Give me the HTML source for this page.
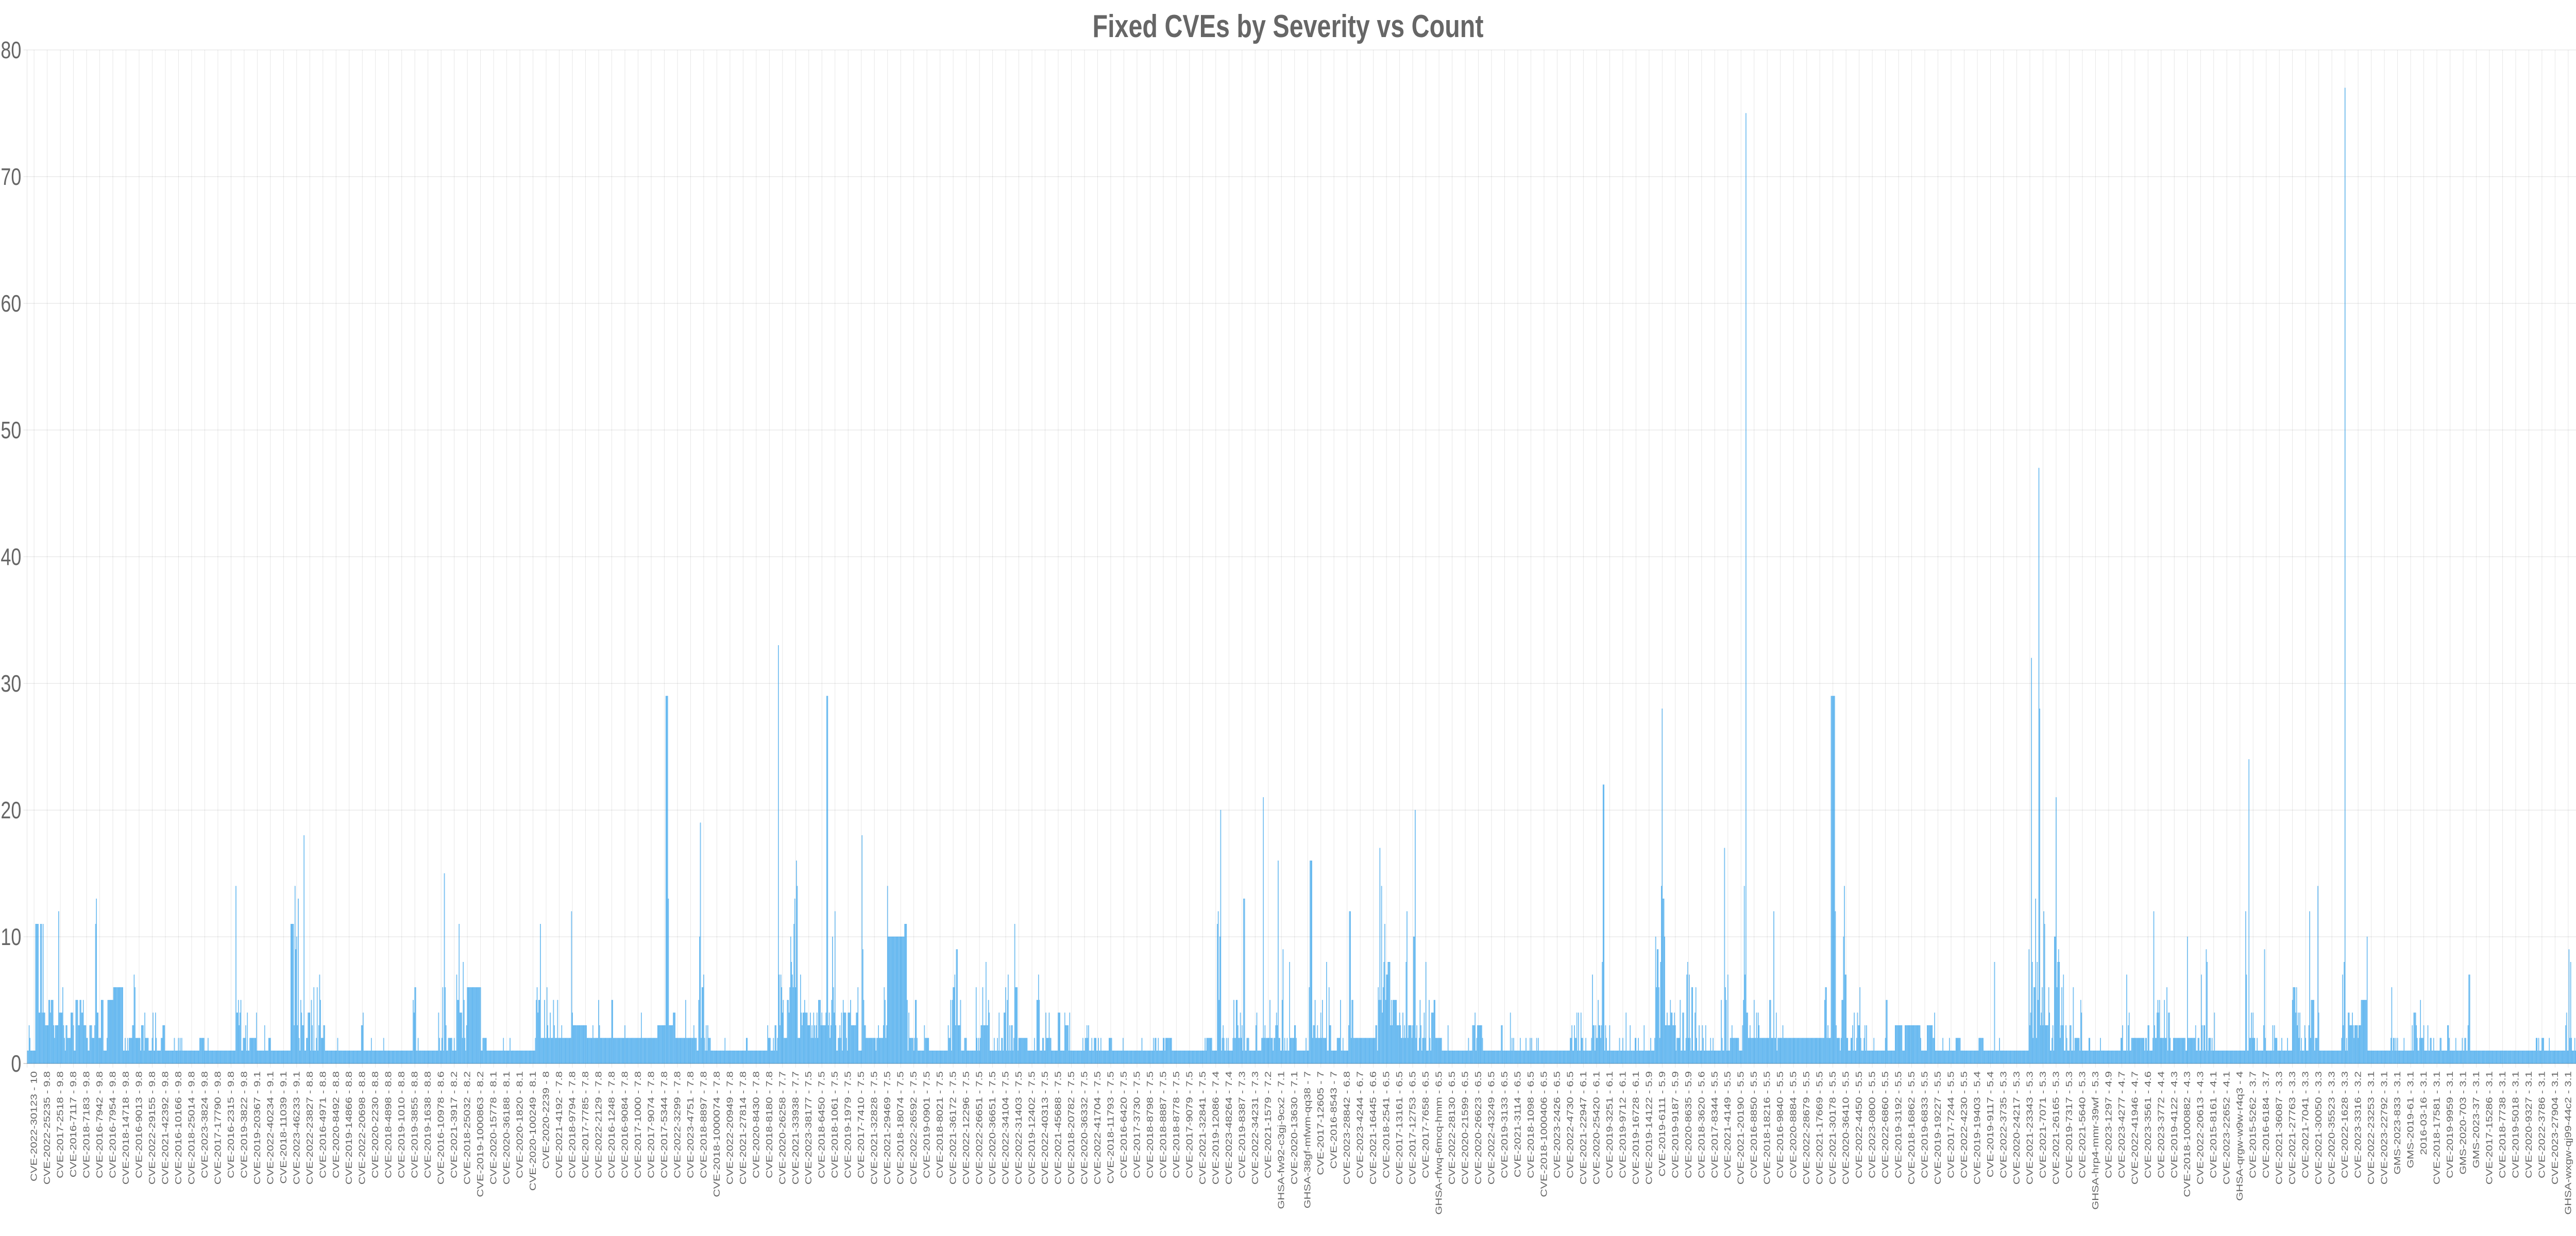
<!DOCTYPE html>
<html>
<head>
<meta charset="utf-8">
<meta name="viewport" content="width=6400, initial-scale=1">
<style>
html,body{margin:0;padding:0;background:#fff;width:100%;height:100%;overflow:hidden;}
svg{display:block;overflow:hidden;width:100vw;height:100vh;}
text{font-family:"Liberation Sans",Arial,sans-serif;fill:#666;}
</style>
</head>
<body>
<svg id="chart" viewBox="0 0 6400 2400" preserveAspectRatio="none" xmlns="http://www.w3.org/2000/svg">
  <rect x="0" y="0" width="6400" height="2400" fill="#fff"/>
  <text x="3200" y="72" text-anchor="middle" font-size="62" font-weight="bold">Fixed CVEs by Severity vs Count</text>
  <g id="grid"></g>
  <g id="bars"></g>
  <g id="yaxis"></g>
  <g id="xaxis"></g>
</svg>
<script>
// Run-length encoded bar values: [count value, number of consecutive bars]
const valueRuns = [
[1,2],[3,1],[2,1],[1,6],[11,4],[4,2],[11,2],[4,1],[11,1],[4,2],
[3,4],[5,2],[4,1],[5,3],[3,1],[2,1],[3,4],[12,1],[4,4],[6,1],[3,1],[2,1],[1,1],[3,2],[2,4],[4,3],[3,1],[1,2],
[5,3],[3,2],[5,2],[4,2],[5,1],[3,3],[2,2],[1,2],[3,3],[2,3],[3,1],[11,1],[13,1],[4,2],[2,3],[5,3],[1,4],[2,1],[5,7],[6,12],
[1,2],[2,1],[1,2],[2,1],[1,1],[2,4],[3,2],[7,1],[6,1],[2,6],[1,1],[3,3],[1,1],[4,1],[2,4],[1,4],[2,1],[4,1],[1,2],[4,1],[2,1],[1,5],[2,2],[3,3],[1,11],[2,1],[1,4],[2,1],[1,1],[2,1],[1,1],[2,1],[1,21],[2,6],[1,4],[2,1],[1,33],
[14,1],[4,2],[5,1],[3,1],[4,1],[5,1],[1,2],[2,3],[3,1],[1,1],[4,1],[1,2],[2,8],[4,1],[1,9],[3,1],[1,4],[2,3],[1,24],
[11,4],[3,1],[14,1],[9,1],[10,1],[3,1],[13,1],[2,1],[1,1],[5,1],[4,1],[3,2],[18,1],[1,2],[2,2],[4,3],[1,1],[5,1],[3,1],[1,1],[6,1],[1,2],[2,1],[6,1],[1,1],[3,1],[7,1],[5,1],[2,3],[3,2],[1,15],[2,1],[1,28],[3,2],[4,1],[1,9],[2,1],[1,14],[2,1],[1,35],
[5,1],[4,1],[6,2],[1,2],[2,1],[1,24],[4,1],[2,1],[1,2],[2,1],[6,1],[1,1],[15,1],[6,1],[3,1],[1,2],[2,5],[1,2],[2,1],[1,2],[7,1],[5,1],[5,1],[11,1],[4,3],[2,1],[8,1],[5,1],[2,1],[1,1],[3,1],[6,17],[1,2],[2,5],[1,20],[2,1],[1,7],[2,1],[1,30],
[2,1],[5,1],[6,1],[4,1],[5,2],[11,1],[2,4],[5,1],[2,2],[6,1],[3,1],[2,2],[4,1],[2,3],[5,1],[3,1],[2,3],[5,1],[2,4],[3,1],[2,11],[12,1],[4,1],[3,17],[2,7],[3,1],[2,6],[5,1],[3,1],[2,14],[5,2],[2,14],[3,1],[2,19],[4,1],[2,19],[3,10],[29,3],[13,1],[3,5],[4,3],[2,12],[5,1],[2,9],[3,1],[2,3],[1,2],[5,1],[10,1],[19,1],[2,1],[6,2],[7,1],[2,1],[1,1],[3,1],[1,1],[3,1],[2,3],[1,17],[2,1],[1,25],[2,2],[1,24],[3,1],[2,3],[1,3],[2,1],[1,1],[3,2],[1,1],[2,1],[33,1],[7,1],[3,1],[7,1],[6,1],[4,1],[5,1],[2,4],[5,2],[4,1],[6,1],[10,1],[8,1],[7,1],[6,1],[11,1],[13,1],[6,1],[16,1],[14,1],[2,3],[7,1],[4,1],[3,1],[4,2],[5,1],[4,3],[3,3],[4,1],[2,1],[3,1],[2,1],[4,1],[3,1],[2,1],[3,1],[4,1],[2,1],[5,3],[3,1],[4,1],[3,4],[4,1],[29,2],[3,1],[4,1],[2,1],[3,1],[5,1],[10,1],[6,1],[4,1],[12,1],[3,1],[1,2],[2,2],[3,1],[2,1],[4,1],[1,1],[5,1],[4,3],[2,1],[1,1],[4,3],[5,1],[3,6],[4,2],[6,1],[1,4],[18,1],[9,1],[5,1],[3,2],[2,12],[1,1],[2,2],[3,1],[2,5],[3,1],[6,1],[5,1],[2,1],[3,1],[14,1],[10,20],[11,3],[5,1],[1,1],[4,1],[2,5],[1,1],[2,1],[5,2],[2,1],[1,8],[3,1],[2,5],[1,23],[3,1],[2,2],[5,1],[1,1],[5,1],[6,2],[7,1],[3,1],[9,2],[3,3],[5,1],[1,4],[2,3],[1,11],[6,1],[2,1],[1,1],[2,1],[1,1],[2,1],[3,2],[6,1],[3,3],[8,1],[3,2],[5,1],[4,1],[1,5],[2,1],[1,3],[2,1],[1,1],[4,1],[1,2],[2,2],[1,1],[4,2],[6,1],[1,1],[5,1],[7,1],[1,1],[3,1],[1,1],[3,2],[1,1],[2,1],[11,1],[6,3],[1,1],[2,11],[1,8],[2,1],[1,2],[5,2],[7,1],[5,1],[1,3],[2,2],[1,2],[4,1],[2,3],
[4,1],[2,2],[1,8],[4,3],[1,5],[4,1],[3,4],[1,1],[4,1],[1,15],
[2,1],[1,2],[2,2],[3,1],[2,1],[3,1],[1,3],[2,1],[1,2],[2,3],
[1,2],[2,1],[1,2],[2,1],[1,9],[2,4],[1,13],[2,1],[1,22],[2,1],
[1,13],[2,1],[1,1],[2,2],[1,2],[2,1],[1,5],[2,2],[1,1],[2,8],
[1,40],[2,1],[1,1],[2,7],[1,6],[11,1],[12,1],[5,1],[10,1],[20,1],
[1,1],[2,1],[3,1],[2,1],[1,2],[2,1],[1,1],[2,1],[1,5],[2,1],
[5,1],[2,2],[5,1],[5,1],[3,1],[2,1],[2,1],[4,1],[2,1],[3,1],
[1,1],[13,2],[1,1],[1,1],[2,3],[1,8],[3,1],[4,1],[1,5],[2,2],
[21,1],[2,1],[3,1],[2,5],[5,1],[2,3],[1,1],[2,2],[3,1],[4,1],
[3,1],[16,1],[2,2],[1,2],[5,1],[9,1],[1,1],[2,1],[1,2],[2,1],
[1,2],[8,1],[2,5],[3,2],[2,1],[1,11],[2,1],[1,3],[6,1],[16,3],
[2,1],[3,2],[5,1],[2,2],[3,1],[2,3],[4,1],[2,1],[5,1],[2,4],
[8,1],[1,2],[6,1],[3,2],[1,7],[2,4],[5,1],[1,2],[2,1],[1,6],
[3,1],[12,2],[2,1],[5,2],[2,27],[3,2],[1,1],[6,1],[5,1],[17,1],
[5,1],[14,1],[4,1],[6,1],[8,1],[11,1],[5,1],[7,2],[8,3],[3,1],
[5,1],[3,1],[5,5],[3,3],[4,1],[3,1],[2,2],[4,1],[2,1],[3,1],
[2,1],[8,1],[12,1],[2,1],[3,4],[2,1],[3,1],[10,2],[20,1],[2,1],
[3,1],[1,2],[2,1],[5,1],[3,1],[1,1],[2,2],[4,1],[2,1],[8,1],
[1,3],[5,1],[2,1],[1,1],[4,3],[5,2],[2,8],[1,7],[3,1],[1,24],
[2,1],[1,4],[3,3],[4,1],[1,1],[2,1],[3,6],[2,1],[1,22],[3,2],
[1,9],[4,1],[1,1],[2,1],[1,1],[2,1],[1,7],[2,1],[1,6],[2,1],
[1,4],[2,1],[1,1],[2,1],[1,5],[2,1],[1,1],[2,1],[1,25],
[1,13],[2,2],[3,1],[1,2],[3,1],[2,2],[4,1],[1,1],[4,1],[1,2],
[4,1],[2,2],[1,3],[2,1],[1,6],[2,1],[7,1],[3,2],[1,1],[3,1],
[2,2],[5,1],[3,2],[2,1],[3,1],[8,1],[22,2],[1,1],[3,1],[2,1],
[1,3],[3,1],[1,11],[2,1],[1,3],[2,1],[1,3],[4,1],[1,4],[3,1],
[1,5],[2,2],[1,2],[2,1],[1,6],[3,1],[1,7],[2,1],[1,4],[2,1],
[10,1],[6,1],[9,2],[6,1],[2,1],[8,1],[14,1],[28,1],[13,2],[10,1],
[3,2],[4,1],[3,3],[5,1],[4,2],[3,2],[4,1],[3,1],[1,1],[2,4],
[5,1],[1,2],[4,2],[1,2],[2,1],[7,1],[8,1],[2,1],[7,1],[2,1],
[1,1],[6,2],[1,2],[4,1],[6,1],[2,1],[1,2],[3,1],[1,3],[3,1],
[2,1],[1,2],[3,1],[1,5],[2,1],[1,2],[2,1],[1,9],[5,1],[2,1],
[1,2],[17,1],[6,1],[5,1],[1,1],[7,1],[1,2],[2,2],[3,1],[2,8],
[1,4],[3,1],[5,1],[14,1],[7,1],[75,1],[4,2],[2,2],[3,1],[2,4],
[5,1],[2,2],[4,1],[2,1],[4,1],[3,1],[2,12],[5,2],[2,3],[12,1],
[2,2],[4,1],[1,1],[2,6],[3,1],[2,50],[5,1],[6,2],[2,1],[3,1],
[2,3],[29,5],[12,1],[3,1],[2,4],[1,1],[2,1],[5,2],[10,1],[14,1],
[7,2],[2,2],[1,3],[2,2],[3,1],[1,1],[4,1],[1,2],[2,1],[4,1],
[3,2],[6,1],[2,1],[1,3],[2,1],[3,1],[1,1],[3,1],[1,8],[2,1],
[1,13],[2,1],[5,2],[1,9],[3,9],[1,3],[3,19],[2,1],[1,7],[3,7],
[2,2],[4,1],[1,9],[2,1],[1,7],[2,1],[1,7],[2,6],[1,22],[2,6],
[1,13],[8,1],[1,5],[2,1],[1,35],[9,1],[3,1],[4,1],[32,1],[8,1],
[2,1],[6,2],[13,1],[2,1],[8,1],[5,1],[47,1],[28,1],[3,1],[4,1],
[6,1],[3,1],[12,1],[11,1],[3,4],[6,1],[4,1],[1,2],[2,1],[3,1],
[1,1],[10,1],[10,1],[21,1],[6,1],[8,1],[9,1],[8,1],[2,1],[3,1],
[6,1],[3,1],[7,1],[1,2],[3,1],[2,1],[1,3],
[3,2],[1,2],[6,1],[1,1],[2,6],[1,1],[5,1],[4,1],[1,8],[2,2],
[1,12],[2,1],[1,24],[2,2],[3,1],[1,4],[7,1],[1,1],[3,1],[4,1],
[1,2],[2,16],[1,1],[2,2],[1,1],[3,2],[1,4],[2,1],[12,1],[3,1],
[2,2],[4,1],[5,1],[4,1],[5,1],[2,5],[5,1],[2,2],[6,1],[1,1],
[4,2],[2,1],[1,3],[2,15],[1,2],[10,1],[2,9],[3,1],[1,2],[2,2],
[1,2],[7,1],[3,1],[1,1],[3,2],[1,1],[9,1],[8,1],[1,1],[2,3],
[1,1],[2,1],[1,2],[4,1],[1,37],[12,1],[7,1],[1,2],[24,1],[2,2],
[4,1],[2,1],[4,1],[2,2],[1,2],[2,1],[1,7],[3,1],[9,1],[2,1],
[1,8],[3,1],[1,1],[3,1],[2,3],[1,5],[2,1],[1,6],[2,1],[1,5],
[5,1],[6,3],[4,1],[6,1],[3,1],[4,1],[2,1],[4,1],[1,1],[2,1],
[1,3],[3,1],[2,1],[1,3],[3,1],[12,1],[2,1],[5,4],[1,1],[2,3],
[14,1],[4,1],[1,27],[2,1],[7,1],[3,1],[8,1],[77,1],[1,1],[2,1],
[1,1],[4,2],[3,3],[4,1],[3,1],[2,1],[3,4],[2,1],[3,3],[5,7],
[10,1],[1,28],[2,1],[6,1],[1,1],[2,2],[1,1],[2,1],[1,1],[2,1],
[1,7],[2,1],[1,9],[3,1],[1,1],[4,3],[3,1],[2,1],[1,2],[2,1],
[5,1],[2,1],[2,2],[3,1],[1,4],[3,1],[1,2],[2,2],[1,2],[2,1],
[1,7],[2,2],[1,7],[3,2],[2,1],[1,7],[2,1],[1,7],[2,1],[1,2],
[2,2],[1,2],[3,1],[7,2],[1,80],[2,2],[1,1],[2,1],[1,3],[2,3],
[1,6],[2,1],[1,19],[3,1],[4,1],[1,2],[9,1],[2,1],[8,1],[2,1],
[1,3],[2,1],[1,1]
];
// Tick labels shown on the x axis (one per 16 categories, as auto-skipped)
const tickLabels = [
"CVE-2022-30123 - 10","CVE-2022-25235 - 9.8","CVE-2017-2518 - 9.8","CVE-2016-7117 - 9.8","CVE-2018-7183 - 9.8","CVE-2016-7942 - 9.8","CVE-2016-7954 - 9.8","CVE-2018-14718 - 9.8","CVE-2016-9013 - 9.8","CVE-2022-29155 - 9.8",
"CVE-2021-42392 - 9.8","CVE-2016-10166 - 9.8","CVE-2018-25014 - 9.8","CVE-2023-3824 - 9.8","CVE-2017-17790 - 9.8","CVE-2016-2315 - 9.8","CVE-2019-3822 - 9.8","CVE-2019-20367 - 9.1","CVE-2022-40234 - 9.1","CVE-2018-11039 - 9.1",
"CVE-2023-46233 - 9.1","CVE-2022-23827 - 8.8","CVE-2016-4971 - 8.8","CVE-2020-8492 - 8.8","CVE-2019-14866 - 8.8","CVE-2022-20698 - 8.8","CVE-2020-2230 - 8.8","CVE-2018-4898 - 8.8","CVE-2019-1010 - 8.8","CVE-2019-3855 - 8.8",
"CVE-2019-1638 - 8.8","CVE-2016-10978 - 8.6","CVE-2021-3917 - 8.2","CVE-2018-25032 - 8.2","CVE-2019-1000863 - 8.2","CVE-2020-15778 - 8.1","CVE-2020-36188 - 8.1","CVE-2020-1820 - 8.1","CVE-2020-100249 - 8.1","CVE-2020-2239 - 8",
"CVE-2021-4192 - 7.8","CVE-2018-9794 - 7.8","CVE-2017-7785 - 7.8","CVE-2022-2129 - 7.8","CVE-2016-1248 - 7.8","CVE-2016-9084 - 7.8","CVE-2017-1000 - 7.8","CVE-2017-9074 - 7.8","CVE-2017-5344 - 7.8","CVE-2022-3299 - 7.8",
"CVE-2023-4751 - 7.8","CVE-2018-8897 - 7.8","CVE-2018-1000074 - 7.8","CVE-2022-20949 - 7.8","CVE-2021-27814 - 7.8","CVE-2020-8430 - 7.8","CVE-2018-8180 - 7.8","CVE-2020-26258 - 7.7","CVE-2021-33938 - 7.7","CVE-2023-38177 - 7.5",
"CVE-2018-6450 - 7.5","CVE-2018-1061 - 7.5","CVE-2019-1979 - 7.5","CVE-2017-7410 - 7.5","CVE-2021-32828 - 7.5","CVE-2021-29469 - 7.5","CVE-2018-18074 - 7.5","CVE-2022-26592 - 7.5","CVE-2019-0901 - 7.5","CVE-2018-8021 - 7.5",
"CVE-2021-36172 - 7.5","CVE-2022-12296 - 7.5","CVE-2022-26651 - 7.5","CVE-2020-36651 - 7.5","CVE-2022-34104 - 7.5","CVE-2022-31403 - 7.5","CVE-2019-12402 - 7.5","CVE-2022-40313 - 7.5","CVE-2021-45688 - 7.5","CVE-2018-20782 - 7.5",
"CVE-2020-36332 - 7.5","CVE-2022-41704 - 7.5","CVE-2018-11793 - 7.5","CVE-2016-6420 - 7.5","CVE-2017-3730 - 7.5","CVE-2018-8798 - 7.5","CVE-2018-8887 - 7.5","CVE-2018-8778 - 7.5","CVE-2017-9079 - 7.5","CVE-2021-32841 - 7.5",
"CVE-2019-12086 - 7.4","CVE-2023-48264 - 7.4","CVE-2019-8387 - 7.3","CVE-2022-34231 - 7.3","CVE-2021-1579 - 7.2","GHSA-fw92-c3gj-9cx2 - 7.1","CVE-2020-13630 - 7.1","GHSA-38gf-mfwm-qq38 - 7","CVE-2017-12605 - 7","CVE-2016-8543 - 7",
"CVE-2023-28842 - 6.8","CVE-2023-4244 - 6.7","CVE-2021-16445 - 6.6","CVE-2018-2541 - 6.5","CVE-2017-13161 - 6.5","CVE-2017-12753 - 6.5","CVE-2017-7658 - 6.5","GHSA-rfwq-6mcq-hmm - 6.5","CVE-2022-28130 - 6.5","CVE-2020-21599 - 6.5",
"CVE-2020-26623 - 6.5","CVE-2022-43249 - 6.5","CVE-2019-3133 - 6.5","CVE-2021-3114 - 6.5","CVE-2018-1098 - 6.5","CVE-2018-1000406 - 6.5","CVE-2023-2426 - 6.5","CVE-2022-4730 - 6.5","CVE-2021-22947 - 6.1","CVE-2020-25420 - 6.1",
"CVE-2019-3251 - 6.1","CVE-2019-9712 - 6.1","CVE-2019-16728 - 6.1","CVE-2019-14122 - 5.9","CVE-2019-6111 - 5.9","CVE-2019-9187 - 5.9","CVE-2020-8635 - 5.9","CVE-2018-3620 - 5.6","CVE-2017-8344 - 5.5","CVE-2021-4149 - 5.5",
"CVE-2021-20190 - 5.5","CVE-2016-8850 - 5.5","CVE-2018-18216 - 5.5","CVE-2016-9840 - 5.5","CVE-2020-8884 - 5.5","CVE-2022-28679 - 5.5","CVE-2021-17669 - 5.5","CVE-2021-30178 - 5.5","CVE-2020-36410 - 5.5","CVE-2022-4450 - 5.5",
"CVE-2023-0800 - 5.5","CVE-2022-6860 - 5.5","CVE-2019-3192 - 5.5","CVE-2018-16862 - 5.5","CVE-2019-6833 - 5.5","CVE-2019-19227 - 5.5","CVE-2017-7244 - 5.5","CVE-2022-4230 - 5.5","CVE-2019-19403 - 5.4","CVE-2019-9117 - 5.4",
"CVE-2022-3735 - 5.3","CVE-2020-24217 - 5.3","CVE-2021-23343 - 5.3","CVE-2021-7071 - 5.3","CVE-2021-26165 - 5.3","CVE-2019-7317 - 5.3","CVE-2021-5640 - 5.3","GHSA-hrp4-mmr-39wf - 5.3","CVE-2023-1297 - 4.9","CVE-2023-4277 - 4.7",
"CVE-2022-41946 - 4.7","CVE-2023-3561 - 4.6","CVE-2023-3772 - 4.4","CVE-2019-4122 - 4.3","CVE-2018-1000882 - 4.3","CVE-2022-20613 - 4.3","CVE-2015-8161 - 4.1","CVE-2023-22652 - 4.1","GHSA-qrgw-w9w-r4q3 - 4","CVE-2015-5262 - 3.7",
"CVE-2016-6184 - 3.7","CVE-2021-36087 - 3.3","CVE-2021-27763 - 3.3","CVE-2021-7041 - 3.3","CVE-2021-30050 - 3.3","CVE-2020-35523 - 3.3","CVE-2022-1628 - 3.3","CVE-2023-3316 - 3.2","CVE-2022-23253 - 3.1","CVE-2023-22792 - 3.1",
"GMS-2023-833 - 3.1","GMS-2019-61 - 3.1","2016-03-16 - 3.1","CVE-2018-17581 - 3.1","CVE-2019-9959 - 3.1","GMS-2020-703 - 3.1","GMS-2023-37 - 3.1","CVE-2017-15286 - 3.1","CVE-2018-7738 - 3.1","CVE-2019-5018 - 3.1",
"CVE-2020-9327 - 3.1","CVE-2022-3786 - 3.1","CVE-2023-27904 - 3.1","GHSA-wxgw-qj99-44c2 - 3.1"
];
const yTickValues = [0,10,20,30,40,50,60,70,80];
const labelEvery = 16;

const NS = "http://www.w3.org/2000/svg";
const plotLeft = 67.3, plotRight = 6400, plotTop = 97, plotBottom = 2065;
const yMax = 80;

const barValues = [];
valueRuns.forEach(function(r){ for (let k = 0; k < r[1]; k++) barValues.push(r[0]); });
const N = Math.max(barValues.length, tickLabels.length * labelEvery);
const bw = (plotRight - plotLeft) / N;
function xScale(i){ return plotLeft + i * bw; }
function yScale(v){ return plotBottom - (v / yMax) * (plotBottom - plotTop); }

const grid = document.getElementById('grid');
const bars = document.getElementById('bars');
const yaxis = document.getElementById('yaxis');
const xaxis = document.getElementById('xaxis');

function mk(tag, attrs){ const e = document.createElementNS(NS, tag); for (const k in attrs) e.setAttribute(k, attrs[k]); return e; }

yTickValues.forEach(function(v){
  const y = yScale(v);
  const ln = mk('line', {x1: plotLeft - 9, x2: plotRight, y1: y, y2: y, stroke: 'rgba(0,0,0,0.1)', 'stroke-width': 1.2});
  
  
  grid.appendChild(ln);
  const t = mk('text', {x: 53, y: y + 16, 'text-anchor': 'end', 'font-size': 46});
  t.textContent = String(v);
  
  
  yaxis.appendChild(t);
});
const yl = mk('line', {x1: plotLeft, x2: plotLeft, y1: plotTop, y2: plotBottom + 8, stroke: 'rgba(0,0,0,0.12)', 'stroke-width': 1.2});


yaxis.appendChild(yl);

tickLabels.forEach(function(lbl, i){
  const x = xScale(i * labelEvery + 8.5);
  const ln = mk('line', {x1: x, x2: x, y1: plotTop, y2: plotBottom + 8, stroke: 'rgba(0,0,0,0.1)', 'stroke-width': 1.2});
  
  
  grid.appendChild(ln);
  const t = mk('text', {x: 0, y: 0, 'text-anchor': 'end', 'font-size': 22, transform: 'translate(' + (x + 7) + ',2080) rotate(-90)'});
  t.textContent = lbl;
  
  
  xaxis.appendChild(t);
});

barValues.forEach(function(v, i){
  const y = yScale(v);
  const r = mk('rect', {x: xScale(i) + 0.25, y: y, width: Math.max(bw - 0.5, 0.5), height: plotBottom - y, fill: 'rgba(54,162,235,0.55)', stroke: 'rgb(54,162,235)', 'stroke-width': 0.5});
  
  
  bars.appendChild(r);
});
const xl = mk('line', {x1: plotLeft - 9, x2: plotRight, y1: plotBottom, y2: plotBottom, stroke: 'rgba(0,0,0,0.15)', 'stroke-width': 1.5});


xaxis.appendChild(xl);
</script>
</body>
</html>
